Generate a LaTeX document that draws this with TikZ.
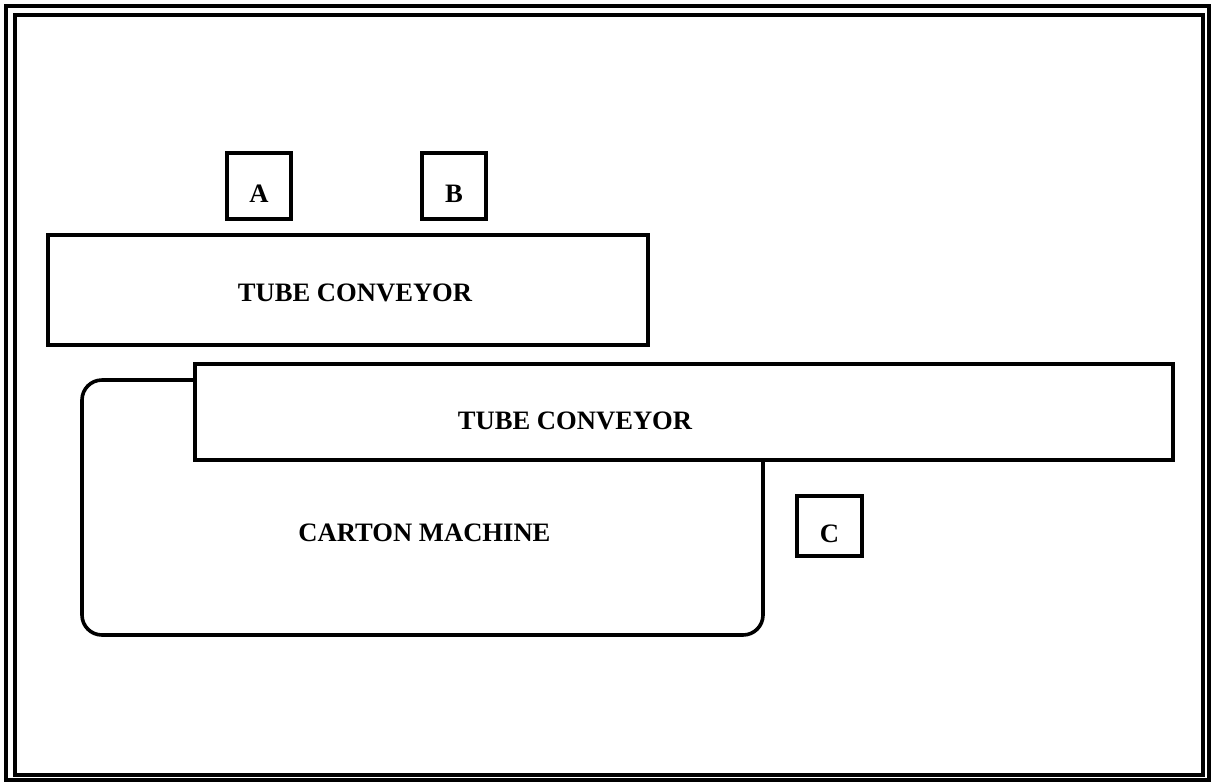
\documentclass[tikz,border=0pt]{standalone}
\usepackage{fontspec}
\setmainfont{Liberation Serif}
\usetikzlibrary{positioning}
\newcommand{\unitfont}{\fontsize{13.3}{16}\selectfont\bfseries}
\tikzset{
  unit/.style={draw=black,line width=1.8pt,fill=white,align=center,
    inner sep=0pt,font=\unitfont},
  sensor/.style={unit,minimum width=32pt,minimum height=33pt,
    text height=16.5pt,text depth=0pt},
  conveyor/.style={unit},
  machine/.style={unit,rounded corners=10pt},
  frameline/.style={draw=black,line width=2pt}
}

\begin{document}
\begin{tikzpicture}[x=0.5pt,y=-0.5pt]
  \useasboundingbox (0,0) rectangle (1213,782);
  \draw[frameline] (6,6) rectangle (1209,780);
  \draw[frameline] (15,15) rectangle (1203,775);
  \node[sensor] (A) at (259,186) {A};
  \node[sensor] (B) at (454,186) {B};
  \node[conveyor,minimum width=300pt,minimum height=55pt,
    label={[font=\unitfont,xshift=3.5pt,yshift=-1.5pt]center:TUBE CONVEYOR}] (upper) at (348,290) {};
  \node[machine,minimum width=340.5pt,minimum height=127.5pt,
    label={[font=\unitfont,xshift=1pt,yshift=-12.5pt]center:CARTON MACHINE}] (carton) at (422.5,507.5) {};
  \node[conveyor,minimum width=489pt,minimum height=48pt,
    label={[font=\unitfont,xshift=-54.5pt,yshift=-4.5pt]center:TUBE CONVEYOR}] (lower) at (684,412) {};
  \node[sensor,minimum width=32.5pt,minimum height=30pt] (C) at (829.5,526) {C};
\end{tikzpicture}
\end{document}
